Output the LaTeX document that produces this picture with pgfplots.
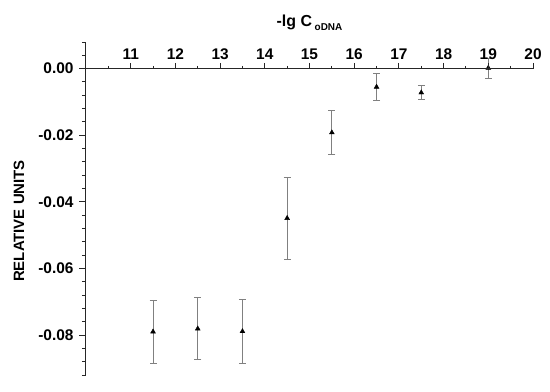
\documentclass[border=0pt]{standalone}
\usepackage{pgfplots}
\pgfplotsset{compat=1.18}
\usepackage{fontspec}
\setmainfont{Liberation Sans}
\begin{document}
\begin{tikzpicture}
\useasboundingbox (-86bp,-17bp) rectangle (464bp,375bp);
% y axis with data
\begin{axis}[
  at={(0,0)}, anchor=south west,
  scale only axis, width=447bp, height=333bp,
  xmin=10, xmax=20, ymin=-0.092, ymax=0.008,
  axis x line=none, axis y line=left,
  y axis line style={-, line width=1bp, black!85},
  ytick={-0.08,-0.06,-0.04,-0.02,0},
  minor ytick={-0.092,-0.088,-0.084,-0.076,-0.072,-0.068,-0.064,-0.056,-0.052,-0.048,-0.044,-0.036,-0.032,-0.028,-0.024,-0.016,-0.012,-0.008,-0.004,0.004,0.008},
  ytick align=outside,
  major tick length=7bp, minor tick length=4bp,
  every tick/.style={line width=1bp, black!85},
  yticklabel style={xshift=-2bp, /pgf/number format/.cd, fixed, fixed zerofill, precision=2, assume math mode=true},
  yticklabel={\fontsize{15.5}{18}\selectfont\bfseries\pgfmathprintnumber{\tick}},
  scaled y ticks=false,
  clip=false,
]
\addplot[only marks, mark=triangle*, mark size=2.8bp, black,
  error bars/.cd, y dir=both, y explicit,
  error bar style={line width=0.9bp, black!50},
  error mark options={rotate=90, mark size=3.5bp, line width=0.9bp, black!50}]
  table[x=x, y=y, y error=e] {
x y e
11.5 -0.0790 0.0095
12.5 -0.0781 0.0093
13.5 -0.0789 0.0095
14.5 -0.0449 0.0123
15.5 -0.0192 0.0065
16.5 -0.0055 0.0042
17.5 -0.0072 0.0022
19.0 0.0002 0.0030
};
\node[rotate=90, font=\fontsize{15}{18}\selectfont\bfseries] at ([xshift=-67bp]rel axis cs:0,0.4625) {RELATIVE UNITS};
\end{axis}
% x axis at y = 0
\begin{axis}[
  at={(0,0)}, anchor=south west,
  scale only axis, width=447bp, height=306bp,
  xmin=10, xmax=20, ymin=0, ymax=1,
  axis y line=none, axis x line=top,
  x axis line style={-, line width=1bp, black!85},
  xtick={11,...,20},
  minor xtick={10.5,11.5,...,19.5},
  xtick align=outside,
  major tick length=6bp, minor tick length=3bp,
  every tick/.style={line width=1bp, black!85},
  xticklabel={\fontsize{15.5}{18}\selectfont\bfseries\pgfmathprintnumber{\tick}},
  xticklabel style={/pgf/number format/assume math mode=true},
  clip=false,
]
\addplot[draw=none] coordinates {(10,0.5)};
\node[anchor=base, inner sep=0pt, font=\fontsize{16}{18}\selectfont\bfseries] at ([yshift=42bp]rel axis cs:0.5,1) {-lg C\,\raisebox{-3.5bp}{\fontsize{10}{11}\selectfont oDNA}};
\end{axis}
\end{tikzpicture}
\end{document}
